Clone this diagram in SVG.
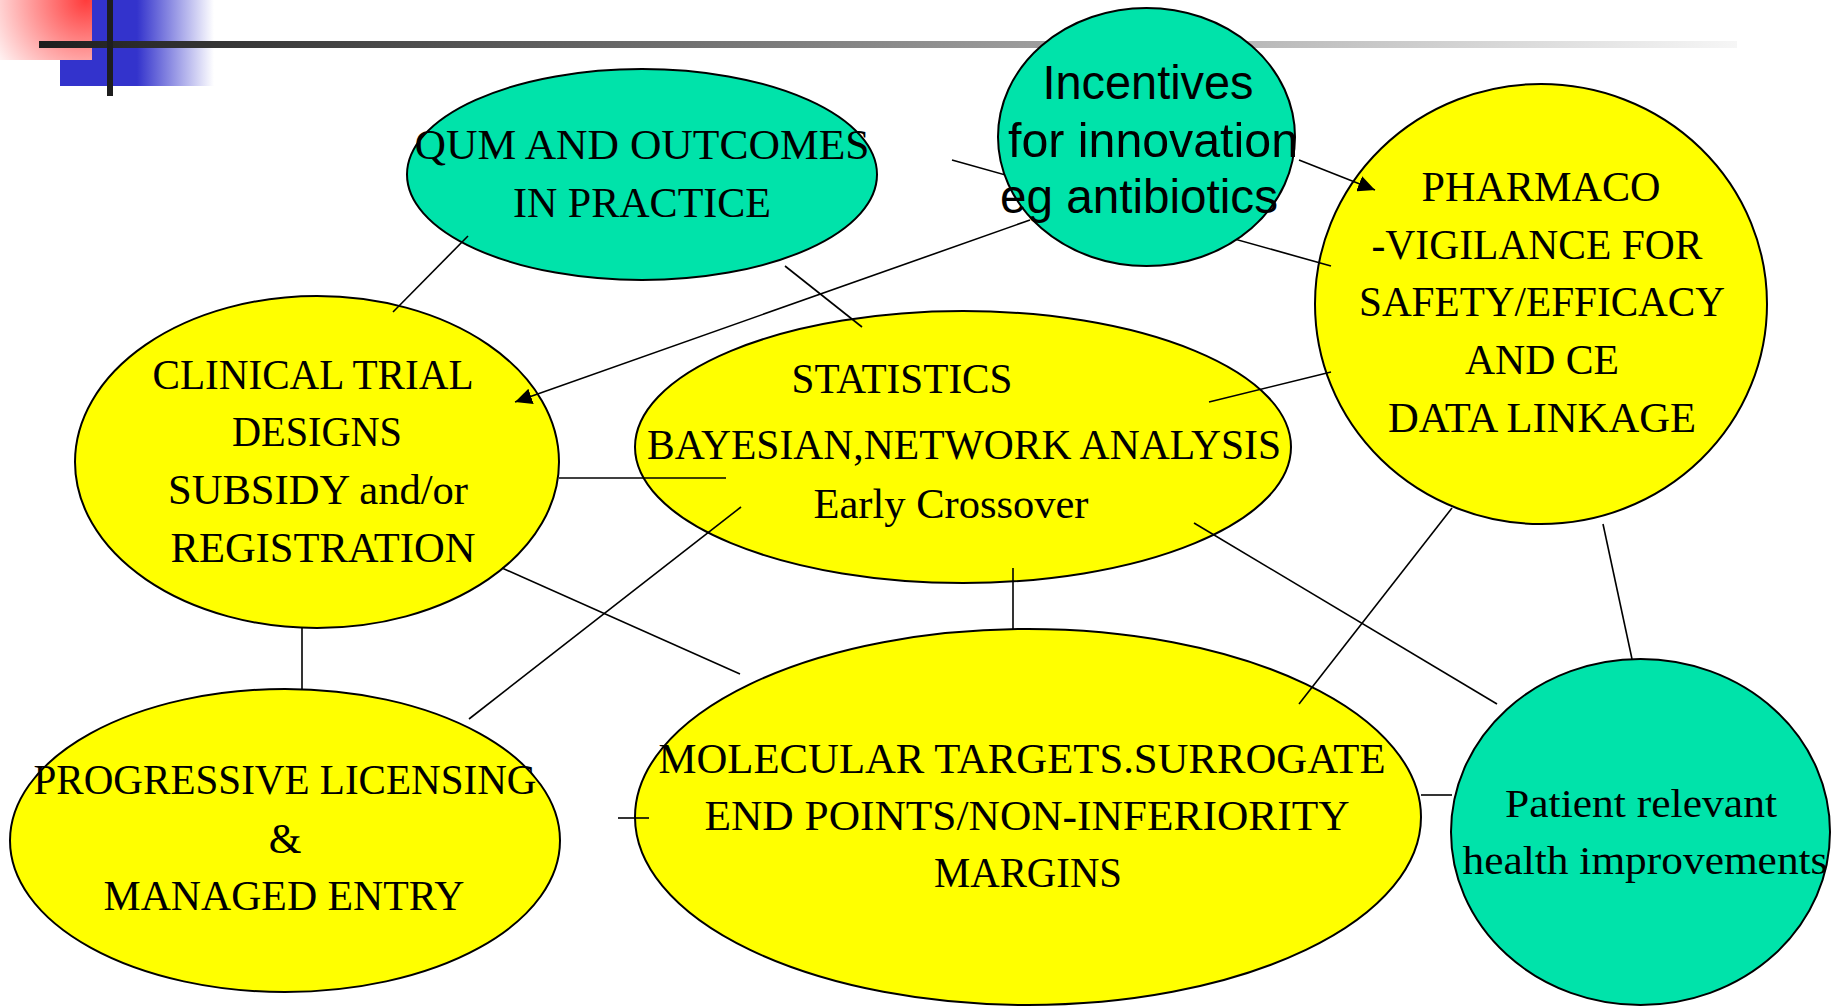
<svg xmlns="http://www.w3.org/2000/svg" width="1837" height="1007" viewBox="0 0 1837 1007">
  <defs>
    <radialGradient id="redFade" gradientUnits="userSpaceOnUse" cx="86" cy="0" r="112">
      <stop offset="0" stop-color="#ff3b3b"/>
      <stop offset="1" stop-color="#ffffff"/>
    </radialGradient>
    <linearGradient id="blueFade" gradientUnits="userSpaceOnUse" x1="60" y1="0" x2="214" y2="0">
      <stop offset="0" stop-color="#3333cc"/>
      <stop offset="0.5" stop-color="#3333cc"/>
      <stop offset="1" stop-color="#ffffff"/>
    </linearGradient>
    <linearGradient id="barFade" gradientUnits="userSpaceOnUse" x1="39" y1="0" x2="1737" y2="0">
      <stop offset="0" stop-color="#1e1e1e"/>
      <stop offset="1" stop-color="#f6f6f6"/>
    </linearGradient>
    <marker id="arrow" markerUnits="userSpaceOnUse" markerWidth="17" markerHeight="16" refX="17" refY="8" orient="auto">
      <path d="M0,0 L17,8 L0,16 z" fill="#000"/>
    </marker>
    <style>
      .green { fill: #00e3aa; stroke: #000; stroke-width: 2; }
      .yellow { fill: #ffff00; stroke: #000; stroke-width: 2; }
      .serif { font-family: "Liberation Serif", "Times New Roman", serif; font-size: 42px; fill: #000; text-anchor: middle; }
      .sans { font-family: "Liberation Sans", Arial, sans-serif; font-size: 48px; fill: #000; text-anchor: middle; }
      .link { stroke: #000; stroke-width: 1.6; fill: none; }
    </style>
  </defs>

  <!-- corner ornament and header rule -->
  <g id="header">
    <rect x="60" y="0" width="154" height="86" fill="url(#blueFade)"/>
    <rect x="0" y="0" width="92" height="60" fill="url(#redFade)"/>
    <rect x="39" y="41" width="1698" height="7" fill="url(#barFade)"/>
    <rect x="107" y="0" width="6" height="96" fill="#1e1e1e"/>
  </g>

  <g id="node-qum">
    <ellipse class="green" cx="642" cy="174.5" rx="235" ry="105.5"/>
    <text class="serif" style="font-size:43px" x="642" y="159" textLength="455" lengthAdjust="spacingAndGlyphs">QUM AND OUTCOMES</text>
    <text class="serif" style="font-size:43px" x="642" y="217" textLength="258" lengthAdjust="spacingAndGlyphs">IN PRACTICE</text>
  </g>

  <g id="node-pharmaco">
    <ellipse class="yellow" cx="1541" cy="304" rx="226" ry="220"/>
    <text class="serif" x="1541" y="201" textLength="239" lengthAdjust="spacingAndGlyphs">PHARMACO</text>
    <text class="serif" x="1537" y="259" textLength="331" lengthAdjust="spacingAndGlyphs">-VIGILANCE FOR</text>
    <text class="serif" x="1542" y="316" textLength="366" lengthAdjust="spacingAndGlyphs">SAFETY/EFFICACY</text>
    <text class="serif" x="1542" y="374" textLength="154" lengthAdjust="spacingAndGlyphs">AND CE</text>
    <text class="serif" x="1542" y="432" textLength="308" lengthAdjust="spacingAndGlyphs">DATA LINKAGE</text>
  </g>

  <g id="node-clinical">
    <ellipse class="yellow" cx="317" cy="462" rx="242" ry="166"/>
    <text class="serif" x="313" y="389" textLength="321" lengthAdjust="spacingAndGlyphs">CLINICAL TRIAL</text>
    <text class="serif" x="317" y="446" textLength="170" lengthAdjust="spacingAndGlyphs">DESIGNS</text>
    <text class="serif" x="318" y="504" textLength="300" lengthAdjust="spacingAndGlyphs">SUBSIDY and/or</text>
    <text class="serif" x="323" y="562" textLength="305" lengthAdjust="spacingAndGlyphs">REGISTRATION</text>
  </g>

  <g id="node-statistics">
    <ellipse class="yellow" cx="963" cy="447" rx="328" ry="136"/>
    <text class="serif" x="902" y="393" textLength="221" lengthAdjust="spacingAndGlyphs">STATISTICS</text>
    <text class="serif" x="964" y="459" textLength="634" lengthAdjust="spacingAndGlyphs">BAYESIAN,NETWORK ANALYSIS</text>
    <text class="serif" x="951" y="518" textLength="275" lengthAdjust="spacingAndGlyphs">Early Crossover</text>
  </g>

  <g id="node-progressive">
    <ellipse class="yellow" cx="285" cy="840.5" rx="275" ry="151.5"/>
    <text class="serif" x="285" y="794" textLength="503" lengthAdjust="spacingAndGlyphs">PROGRESSIVE LICENSING</text>
    <text class="serif" x="285" y="853">&amp;</text>
    <text class="serif" x="284" y="910" textLength="361" lengthAdjust="spacingAndGlyphs">MANAGED ENTRY</text>
  </g>

  <g id="node-molecular">
    <ellipse class="yellow" cx="1028" cy="817" rx="393" ry="188"/>
    <text class="serif" x="1022" y="773" textLength="727" lengthAdjust="spacingAndGlyphs">MOLECULAR TARGETS.SURROGATE</text>
    <text class="serif" x="1027" y="830" textLength="645" lengthAdjust="spacingAndGlyphs">END POINTS/NON-INFERIORITY</text>
    <text class="serif" x="1028" y="887" textLength="188" lengthAdjust="spacingAndGlyphs">MARGINS</text>
  </g>

  <g id="node-patient">
    <ellipse class="green" cx="1640.5" cy="832" rx="189.5" ry="173"/>
    <text class="serif" style="font-size:41px" x="1641" y="817" textLength="272" lengthAdjust="spacingAndGlyphs">Patient relevant</text>
    <text class="serif" style="font-size:41px" x="1645" y="874" textLength="365" lengthAdjust="spacingAndGlyphs">health improvements</text>
  </g>

  <!-- links between the topics -->
  <g id="connectors">
    <line class="link" x1="468" y1="236" x2="393" y2="312"/>
    <line class="link" x1="952" y1="160" x2="1331" y2="266"/>
    <line class="link" x1="1299" y1="160" x2="1375" y2="190" marker-end="url(#arrow)"/>
    <line class="link" x1="1030" y1="220" x2="515" y2="402" marker-end="url(#arrow)"/>
    <line class="link" x1="785" y1="266" x2="862" y2="327"/>
    <line class="link" x1="559" y1="478" x2="726" y2="478"/>
    <line class="link" x1="1209" y1="402" x2="1331" y2="372"/>
    <line class="link" x1="741" y1="507" x2="469" y2="719"/>
    <line class="link" x1="502" y1="568" x2="740" y2="674"/>
    <line class="link" x1="1013" y1="568" x2="1013" y2="629"/>
    <line class="link" x1="1194" y1="523" x2="1497" y2="704"/>
    <line class="link" x1="302" y1="628" x2="302" y2="689"/>
    <line class="link" x1="618" y1="818" x2="649" y2="818"/>
    <line class="link" x1="1452" y1="508" x2="1299" y2="704"/>
    <line class="link" x1="1603" y1="524" x2="1632" y2="659"/>
    <line class="link" x1="1421" y1="795" x2="1452" y2="795"/>
  </g>

  <g id="node-incentives">
    <ellipse class="green" cx="1146.5" cy="137" rx="148.5" ry="129"/>
    <text class="sans" x="1148" y="99" textLength="211" lengthAdjust="spacingAndGlyphs">Incentives</text>
    <text class="sans" x="1153" y="157" textLength="290" lengthAdjust="spacingAndGlyphs">for innovation</text>
    <text class="sans" x="1139" y="213" textLength="278" lengthAdjust="spacingAndGlyphs">eg antibiotics</text>
  </g>
</svg>
